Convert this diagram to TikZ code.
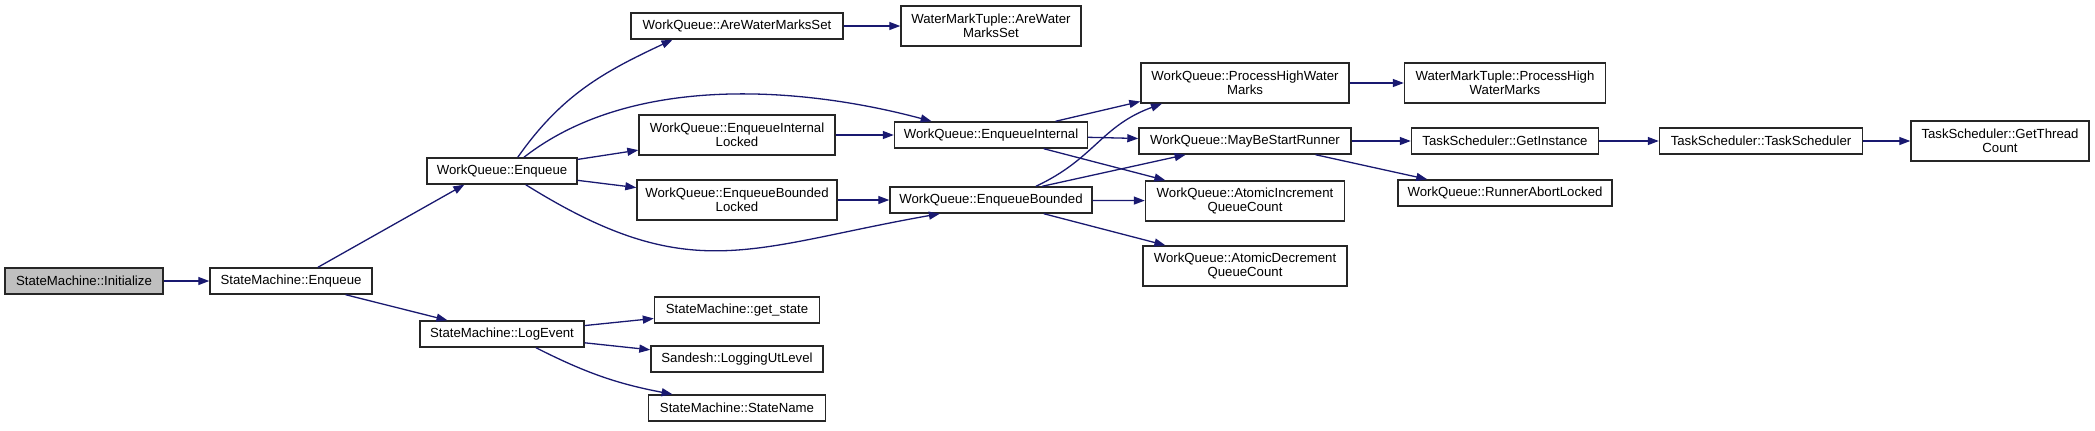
\documentclass[tikz,border=0pt]{standalone}
\usepackage{fontspec}
\setmainfont{Liberation Sans}
\usetikzlibrary{arrows.meta}
\definecolor{callblue}{HTML}{191970}
\definecolor{rootgrey}{HTML}{BFBFBF}

\begin{document}
\begin{tikzpicture}[x=0.5pt,y=0.5pt,
  func/.style={draw=black!85,line width=0.7pt,fill=white,inner sep=0pt,
    minimum height=13pt,align=center,font=\fontsize{6.6pt}{7pt}\selectfont},
  functwo/.style={func,minimum height=20pt},
  rootfunc/.style={func,fill=rootgrey},
  callarrow/.style={draw=callblue,line width=0.65pt,-{Triangle[length=5.5pt,width=4pt]}}]
  \useasboundingbox (0,0) rectangle (2095,-430);

  % StateMachine side
  \node[rootfunc,minimum width=79pt] (init) at (84,-281) {StateMachine::Initialize};
  \node[func,minimum width=81pt] (sme) at (291,-281) {StateMachine::Enqueue};
  \node[func,minimum width=82pt] (logev) at (502,-334) {StateMachine::LogEvent};
  \node[func,minimum width=82.5pt] (getst) at (737,-310) {StateMachine::get\_state};
  \node[func,minimum width=86pt] (utlevel) at (737,-359) {Sandesh::LoggingUtLevel};
  \node[func,minimum width=88.5pt] (stname) at (737,-408) {StateMachine::StateName};

  % WorkQueue
  \node[func,minimum width=75pt] (wqe) at (502,-171) {WorkQueue::Enqueue};
  \node[func,minimum width=106pt] (awms) at (737,-26) {WorkQueue::AreWaterMarksSet};
  \node[functwo,minimum width=98pt] (eil) at (737,-135) {WorkQueue::EnqueueInternal\\Locked};
  \node[functwo,minimum width=100pt] (ebl) at (737,-200) {WorkQueue::EnqueueBounded\\Locked};
  \node[functwo,minimum width=90pt] (wmtawms) at (991,-26) {WaterMarkTuple::AreWater\\MarksSet};
  \node[func,minimum width=96.5pt] (eint) at (991,-135) {WorkQueue::EnqueueInternal};
  \node[func,minimum width=101pt] (eb) at (991,-200) {WorkQueue::EnqueueBounded};
  \node[functwo,minimum width=104pt] (phwm) at (1245,-83) {WorkQueue::ProcessHighWater\\Marks};
  \node[func,minimum width=106pt] (mbsr) at (1245,-141) {WorkQueue::MayBeStartRunner};
  \node[functwo,minimum width=99.5pt] (ainc) at (1245,-201) {WorkQueue::AtomicIncrement\\QueueCount};
  \node[functwo,minimum width=102pt] (adec) at (1245,-266) {WorkQueue::AtomicDecrement\\QueueCount};
  \node[functwo,minimum width=100.5pt] (wmtphwm) at (1505,-83) {WaterMarkTuple::ProcessHigh\\WaterMarks};
  \node[func,minimum width=107pt] (ral) at (1505,-193) {WorkQueue::RunnerAbortLocked};

  % TaskScheduler
  \node[func,minimum width=93.5pt] (getinst) at (1505,-141) {TaskScheduler::GetInstance};
  \node[func,minimum width=101.5pt] (tsched) at (1761,-141) {TaskScheduler::TaskScheduler};
  \node[functwo,minimum width=89pt] (gtc) at (2000,-141) {TaskScheduler::GetThread\\Count};

  % straight calls
  \foreach \a/\b in {init/sme,sme/logev,logev/getst,logev/utlevel,wqe/eil,wqe/ebl,
      eil/eint,ebl/eb,awms/wmtawms,phwm/wmtphwm,eint/mbsr,eint/ainc,eb/ainc,eb/adec,
      mbsr/getinst,getinst/tsched,tsched/gtc}
    \draw[callarrow] (\a) -- (\b);
  \draw[callarrow] (sme.27) -- (wqe.200);
  \draw[callarrow] (eint.12) -- (phwm.190);
  \draw[callarrow] (eb.15) -- (mbsr.193);
  \draw[callarrow] (mbsr.-11) -- (ral.170);

  % curved calls
  \draw[callarrow] (logev.-22) to[bend right=8] (stname.168);
  \draw[callarrow] (wqe.41) to[out=55,in=205] (awms.192);
  \draw[callarrow] (wqe.32) to[out=38,in=165,looseness=0.85] (eint.167);
  \draw[callarrow] (wqe.-30) to[out=-32,in=190,looseness=1.2] (eb.195);
  \draw[callarrow] (eb.17) to[out=25,in=200,looseness=1.1] (phwm.194);
\end{tikzpicture}
\end{document}
